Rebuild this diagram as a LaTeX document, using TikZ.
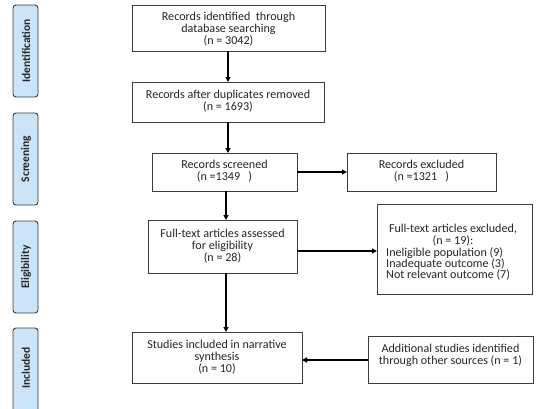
\documentclass[tikz,border=0pt]{standalone}
\usepackage{fontspec}
\setmainfont{Carlito}
\usetikzlibrary{arrows.meta}
\definecolor{phase}{RGB}{204,228,248}
\definecolor{edge}{RGB}{60,60,60}
\begin{document}
\begin{tikzpicture}[x=1pt,y=-1pt,
  flowbox/.style={draw=edge,line width=0.9pt,fill=white},
  phasebox/.style={draw=edge,line width=0.9pt,fill=phase,rounded corners=3pt},
  txt/.style={align=center,font=\fontsize{12.1}{12.3}\selectfont,text=black!85,inner sep=0pt},
  listtxt/.style={align=left,font=\fontsize{12.1}{11.3}\selectfont,text=black!85,inner sep=0pt},
  phasetxt/.style={rotate=90,font=\fontsize{11.5}{12}\selectfont\bfseries,text=black!85},
  arr/.style={line width=1.3pt,-{Triangle[length=5pt,width=5pt]}}]
\useasboundingbox (0,0) rectangle (536,408);
\clip (0,0) rectangle (536,408);
% phase labels
\draw[phasebox] (13,5) rectangle (38,97);
\node[phasetxt] (pid) at (26,51) {Identification};
\draw[phasebox] (13,113) rectangle (38,205);
\node[phasetxt] (psc) at (26,159) {Screening};
\draw[phasebox] (13,221) rectangle (38,313);
\node[phasetxt] (pel) at (26,267) {Eligibility};
\draw[phasebox] (13,328) rectangle (38,420);
\node[phasetxt] (pin) at (26,368) {Included};
% boxes
\draw[flowbox] (132,5) rectangle (325,51);
\node[txt] (b1) at (228.5,29) {Records identified\ \ through\\database searching\\(n = 3042)};
\coordinate (b1s) at (228,51);
\draw[flowbox] (132,82) rectangle (324,122);
\node[txt] (b2) at (228,101) {Records after duplicates removed\\(n = 1693)};
\coordinate (b2n) at (228,82);
\coordinate (b2s) at (228,122);
\draw[flowbox] (152,153) rectangle (297,191);
\node[txt] (b3) at (224.5,171) {Records screened\\(n =1349\ \ \ )};
\coordinate (b3n) at (228,153);
\coordinate (b3s) at (226,191);
\coordinate (b3e) at (297,172);
\draw[flowbox] (347,153) rectangle (496,191);
\node[txt] (b4) at (421.5,171) {Records excluded\\(n =1321\ \ \ )};
\coordinate (b4w) at (347,172);
\draw[flowbox] (148,220) rectangle (297,273);
\node[txt] (b5) at (222.5,246) {Full-text articles assessed\\for eligibility\\(n = 28)};
\coordinate (b5n) at (226,220);
\coordinate (b5s) at (226,273);
\coordinate (b5e) at (297,251);
\draw[flowbox] (377,204) rectangle (532,294);
\node[txt,font=\fontsize{12.1}{11.7}\selectfont] (b6t) at (453,235) {Full-text articles excluded,\\(n = 19):};
\node[listtxt,anchor=north west] (b6l) at (386,247) {Ineligible population (9)\\Inadequate outcome (3)\\Not relevant outcome (7)};
\coordinate (b6w) at (377,251);
\draw[flowbox] (132,332) rectangle (302,383);
\node[txt] (b7) at (217,357) {Studies included in narrative\\synthesis\\(n = 10)};
\coordinate (b7n) at (226,332);
\coordinate (b7e) at (302,360);
\draw[flowbox] (368,336) rectangle (533,383);
\node[txt] (b8) at (450.5,355) {Additional studies identified\\through other sources (n = 1)};
\coordinate (b8w) at (368,360);
% arrows
\draw[arr] (b1s) -- (b2n);
\draw[arr] (b2s) -- (b3n);
\draw[arr] (b3e) -- (b4w);
\draw[arr] (b3s) -- (b5n);
\draw[arr] (b5e) -- (b6w);
\draw[arr] (b5s) -- (b7n);
\draw[arr] (b8w) -- (b7e);
\end{tikzpicture}
\end{document}
